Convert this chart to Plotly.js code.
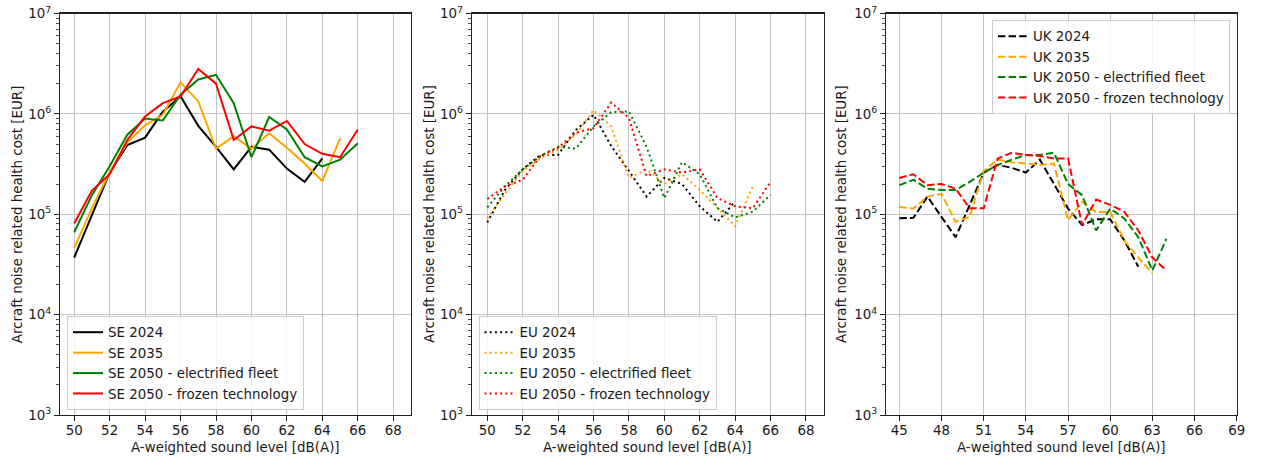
<!DOCTYPE html>
<html>
<head>
<meta charset="utf-8">
<script src="https://cdn.plot.ly/plotly-3.0.1.min.js"></script>
<style>html,body{margin:0;padding:0;background:#fff;}#chart{width:1261px;height:460px;}</style>
</head>
<body>
<div id="chart"></div>
<script>
// ---------- data ----------
const seLevels = [50,51,52,53,54,55,56,57,58,59,60,61,62,63,64,65,66];
const se2024 = [3.7e4,1.0e5,2.6e5,4.9e5,5.8e5,1.05e6,1.5e6,7.6e5,4.7e5,2.8e5,4.7e5,4.4e5,2.85e5,2.1e5,3.6e5,null,null];
const se2035 = [4.6e4,1.15e5,2.6e5,5.2e5,7.7e5,9.8e5,2.06e6,1.33e6,4.5e5,6.0e5,4.5e5,6.4e5,4.6e5,3.2e5,2.15e5,5.7e5,null];
const se2050e = [6.6e4,1.55e5,3.0e5,6.2e5,9.0e5,8.6e5,1.55e6,2.2e6,2.45e6,1.28e6,3.7e5,9.3e5,7.0e5,3.7e5,3.0e5,3.5e5,5.1e5];
const se2050f = [8.1e4,1.72e5,2.5e5,5.5e5,9.4e5,1.28e6,1.49e6,2.8e6,2.0e6,5.5e5,7.5e5,6.8e5,8.5e5,5.0e5,4.0e5,3.7e5,7.0e5];

const euLevels = [50,51,52,53,54,55,56,57,58,59,60,61,62,63,64,65,66];
const eu2024 = [8.3e4,1.75e5,2.8e5,3.9e5,3.9e5,6.9e5,9.8e5,4.8e5,2.7e5,1.5e5,2.3e5,2.0e5,1.2e5,8.4e4,1.34e5,null,null];
const eu2035 = [9.1e4,1.6e5,2.7e5,3.6e5,4.4e5,6.2e5,1.09e6,7.5e5,2.3e5,2.8e5,2.0e5,2.5e5,1.75e5,1.15e5,7.6e4,1.9e5,null];
const eu2050e = [1.17e5,1.9e5,2.8e5,3.8e5,4.7e5,4.5e5,7.5e5,1.04e6,1.06e6,4.7e5,1.45e5,3.3e5,2.5e5,1.15e5,9.3e4,1.06e5,1.56e5];
const eu2050f = [1.42e5,1.9e5,2.2e5,3.8e5,4.6e5,6.5e5,7.2e5,1.3e6,9.1e5,2.4e5,2.8e5,2.6e5,2.8e5,1.45e5,1.2e5,1.15e5,2.1e5];

const ukLevels = [45,46,47,48,49,50,51,52,53,54,55,56,57,58,59,60,61,62,63,64];
const uk2024 = [9.1e4,9.2e4,1.5e5,9.5e4,5.9e4,1.23e5,2.6e5,3.1e5,2.9e5,2.6e5,3.5e5,2.0e5,1.14e5,7.8e4,8.9e4,8.9e4,5.5e4,3.0e4,null,null];
const uk2035 = [1.18e5,1.14e5,1.5e5,1.6e5,8.4e4,9.4e4,2.7e5,3.5e5,3.3e5,3.2e5,3.1e5,3.2e5,8.7e4,1.33e5,1.05e5,1.05e5,5.5e4,3.7e4,2.6e4,null];
const uk2050e = [1.95e5,2.2e5,1.8e5,1.74e5,1.74e5,2.1e5,2.6e5,3.1e5,3.5e5,3.9e5,3.9e5,4.1e5,2.0e5,1.55e5,6.9e4,1.14e5,9.1e4,5.9e4,2.75e4,5.7e4];
const uk2050f = [2.3e5,2.5e5,1.95e5,2.0e5,1.8e5,1.15e5,1.15e5,3.6e5,4.1e5,3.9e5,3.8e5,3.6e5,3.6e5,7.8e4,1.4e5,1.24e5,1.06e5,6.9e4,3.7e4,2.75e4];

const seNames = ['SE 2024','SE 2035','SE 2050 - electrified fleet','SE 2050 - frozen technology'];
const euNames = ['EU 2024','EU 2035','EU 2050 - electrified fleet','EU 2050 - frozen technology'];
const ukNames = ['UK 2024','UK 2035','UK 2050 - electrified fleet','UK 2050 - frozen technology'];
const seriesColors = ['#000000','#FFA500','#008000','#FF0000'];

const ukXTicks = [45,48,51,54,57,60,63,66,69];
const seXTicks = [50,52,54,56,58,60,62,64,66,68];
const yTickVals = [1e3,1e4,1e5,1e6,1e7];
const yTickText = ['10<sup>3</sup>','10<sup>4</sup>','10<sup>5</sup>','10<sup>6</sup>','10<sup>7</sup>'];
const xTitle = 'A-weighted sound level [dB(A)]';
const yTitle = 'Arcraft noise related health cost [EUR]';

// ---------- build ----------
const W = 1261, H = 460;
const FONT = 'DejaVu Sans, sans-serif';
const TXT = '#1a1a1a';
const FS = 13.4;

const minorVals = [];
for (let e = 3; e < 7; e++) for (let m = 2; m <= 9; m++) minorVals.push(m * Math.pow(10, e));

function mkTraces(xs, ys, names, dash, xa, ya, leg) {
  return ys.map((y, i) => ({
    type: 'scatter', mode: 'lines', x: xs, y: y, name: names[i],
    xaxis: xa, yaxis: ya, legend: leg, connectgaps: false,
    line: {color: seriesColors[i], width: 2, dash: dash}
  }));
}

const data = [].concat(
  mkTraces(seLevels, [se2024, se2035, se2050e, se2050f], seNames, 'solid', 'x', 'y', 'legend'),
  mkTraces(euLevels, [eu2024, eu2035, eu2050e, eu2050f], euNames, '2px,3.2px', 'x2', 'y2', 'legend2'),
  mkTraces(ukLevels, [uk2024, uk2035, uk2050e, uk2050f], ukNames, '7.4px,3.2px', 'x3', 'y3', 'legend3')
);

const panels = [
  {l: 60, r: 411, xr: [49.2, 69.0], ticks: seXTicks, ytx: 17},
  {l: 471.7, r: 824, xr: [49.12, 69.02], ticks: seXTicks, ytx: 429.5},
  {l: 886, r: 1236.7, xr: [44.05, 69.0], ticks: ukXTicks, ytx: 841.7}
];
const plotTop = 13.5, plotBot = 415;

const layout = {
  width: W, height: H,
  margin: {l: 0, r: 0, t: 0, b: 0},
  paper_bgcolor: '#ffffff', plot_bgcolor: '#ffffff',
  font: {family: FONT, size: FS, color: TXT},
  annotations: []
};

const legStyle = {
  bgcolor: 'rgba(255,255,255,0.85)', bordercolor: '#cccccc', borderwidth: 1,
  font: {family: FONT, size: FS, color: TXT}, tracegroupgap: 0, itemwidth: 30
};
layout.legend = Object.assign({}, legStyle, {x: 67 / W, y: 1 - 410 / H, xanchor: 'left', yanchor: 'bottom'});
layout.legend2 = Object.assign({}, legStyle, {x: 478.5 / W, y: 1 - 410 / H, xanchor: 'left', yanchor: 'bottom'});
layout.legend3 = Object.assign({}, legStyle, {x: 1230 / W, y: 1 - 20 / H, xanchor: 'right', yanchor: 'top'});

panels.forEach((p, i) => {
  const sfx = i === 0 ? '' : String(i + 1);
  layout['xaxis' + sfx] = {
    domain: [p.l / W, p.r / W], range: p.xr, anchor: 'y' + sfx,
    tickmode: 'array', tickvals: p.ticks, ticktext: p.ticks.map(String),
    ticks: 'outside', ticklen: 4.9, tickwidth: 1, tickcolor: '#222',
    ticklabelstandoff: -2,
    showgrid: true, gridcolor: '#c4c4c4', gridwidth: 1,
    showline: true, linecolor: '#222', linewidth: 1.1, mirror: true,
    zeroline: false, tickfont: {family: FONT, size: FS, color: TXT}, automargin: false
  };
  layout['yaxis' + sfx] = {
    domain: [1 - plotBot / H, 1 - plotTop / H], type: 'log', range: [3, 7], anchor: 'x' + sfx,
    tickmode: 'array', tickvals: yTickVals, ticktext: yTickText,
    ticks: 'outside', ticklen: 4.9, tickwidth: 1, tickcolor: '#222',
    minor: {tickmode: 'array', tickvals: minorVals, ticks: 'outside', ticklen: 2.8, tickwidth: 0.8, tickcolor: '#222', showgrid: false},
    showgrid: true, gridcolor: '#c4c4c4', gridwidth: 1,
    showline: true, linecolor: '#222', linewidth: 1.1, mirror: true,
    zeroline: false, tickfont: {family: FONT, size: FS, color: TXT}, automargin: false
  };
  layout.annotations.push({
    text: xTitle, xref: 'paper', yref: 'paper', x: (p.l + p.r) / 2 / W, y: 1 - 447 / H,
    xanchor: 'center', yanchor: 'middle', showarrow: false, font: {family: FONT, size: FS, color: TXT}
  });
  layout.annotations.push({
    text: yTitle, xref: 'paper', yref: 'paper', x: p.ytx / W, y: 1 - (plotTop + plotBot) / 2 / H,
    xanchor: 'center', yanchor: 'middle', textangle: -90, showarrow: false, font: {family: FONT, size: FS, color: TXT}
  });
});

Plotly.newPlot('chart', data, layout, {staticPlot: true, displayModeBar: false});
</script>
</body>
</html>
